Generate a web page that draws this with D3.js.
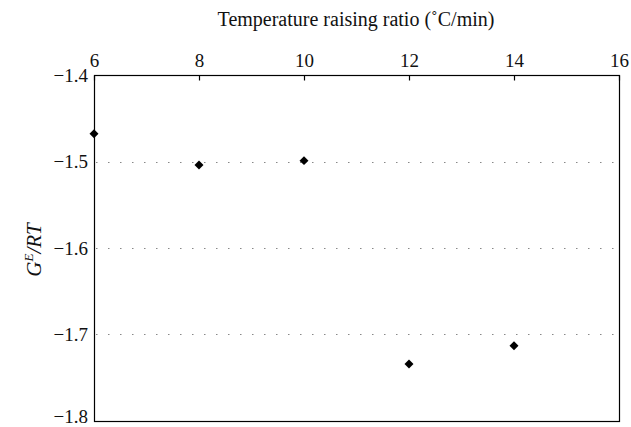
<!DOCTYPE html>
<html>
<head>
<meta charset="utf-8">
<script src="https://cdn.jsdelivr.net/npm/d3@7"></script>
<style>
  body { margin: 0; background: #fff; }
  svg text { font-family: "Liberation Serif" !important; fill: #111; }
</style>
</head>
<body>
<div id="chart"></div>
<script>
// data
var rates = [6, 8, 10, 12, 14];
var gert = [-1.468, -1.504, -1.499, -1.734, -1.713];
var xTicks = [6, 8, 10, 12, 14, 16];
var yTicks = [-1.4, -1.5, -1.6, -1.7, -1.8];

var W = 631, H = 427;
var box = { left: 94, right: 619, top: 75, bottom: 421 };
var serif = "Liberation Serif";

var svg = d3.select("#chart").append("svg")
    .attr("width", W)
    .attr("height", H)
    .attr("font-family", serif);

var x = d3.scaleLinear().domain([6, 16]).range([box.left, box.right]);
var y = d3.scaleLinear().domain([-1.8, -1.4]).range([box.bottom, box.top]);

// dotted grid lines
svg.append("g")
    .selectAll("line")
    .data(yTicks.filter(function(d) { return d > -1.8 && d < -1.4; }))
    .enter()
    .append("line")
    .attr("x1", box.left + 2)
    .attr("x2", box.right)
    .attr("y1", function(d) { return Math.round(y(d)) + 0.5; })
    .attr("y2", function(d) { return Math.round(y(d)) + 0.5; })
    .style("stroke", "#888")
    .style("stroke-width", 1.2)
    .style("stroke-dasharray", "1.5,10.5");

// frame
svg.append("rect")
    .attr("x", box.left + 0.5)
    .attr("y", box.top + 0.5)
    .attr("width", box.right - box.left)
    .attr("height", box.bottom - box.top)
    .style("fill", "none")
    .style("stroke", "#000")
    .style("stroke-width", 1.2);

// top axis
var xaxis = d3.axisTop(x)
    .tickValues(xTicks)
    .tickSizeInner(-5)
    .tickSizeOuter(0)
    .tickPadding(9)
    .tickFormat(d3.format("d"));

var gx = svg.append("g")
    .attr("transform", "translate(0," + (box.top + 0.5) + ")")
    .call(xaxis)
    .attr("font-family", serif);
gx.select(".domain").remove();
gx.selectAll("line").style("stroke", "#000").style("stroke-width", 1.2);
gx.selectAll("text").style("font-size", "19px").attr("fill", "#111");

// left axis
var yaxis = d3.axisLeft(y)
    .tickValues(yTicks)
    .tickSize(0)
    .tickPadding(6)
    .tickFormat(function(d) { return "\u2212" + d3.format(".1f")(-d); });

var gy = svg.append("g")
    .attr("transform", "translate(" + box.left + ",0)")
    .call(yaxis)
    .attr("font-family", serif);
gy.select(".domain").remove();
gy.selectAll("text").style("font-size", "19px").attr("fill", "#111");
// the last label sits at the page edge, lift it a bit so it stays whole
gy.selectAll("text").filter(function(d) { return d === -1.8; }).attr("dy", "0.1em");

// points
var diamond = d3.symbol().type(d3.symbolSquare).size(40);
svg.append("g")
    .selectAll("path")
    .data(rates)
    .enter()
    .append("path")
    .attr("d", diamond)
    .attr("transform", function(d, i) {
        return "translate(" + x(d) + "," + y(gert[i]) + ") rotate(45)";
    })
    .style("fill", "#000");

// titles
svg.append("text")
    .attr("x", 356)
    .attr("y", 26)
    .attr("text-anchor", "middle")
    .style("font-size", "20px")
    .text("Temperature raising ratio (\u02DAC/min)");

var ylab = svg.append("text")
    .attr("transform", "translate(41," + 250 + ") rotate(-90)")
    .attr("text-anchor", "middle")
    .style("font-size", "21px")
    .style("font-style", "italic");
ylab.append("tspan").text("G");
ylab.append("tspan").attr("dy", -8).style("font-size", "13px").text("E");
ylab.append("tspan").attr("dy", 8).text("/RT");
</script>
</body>
</html>
